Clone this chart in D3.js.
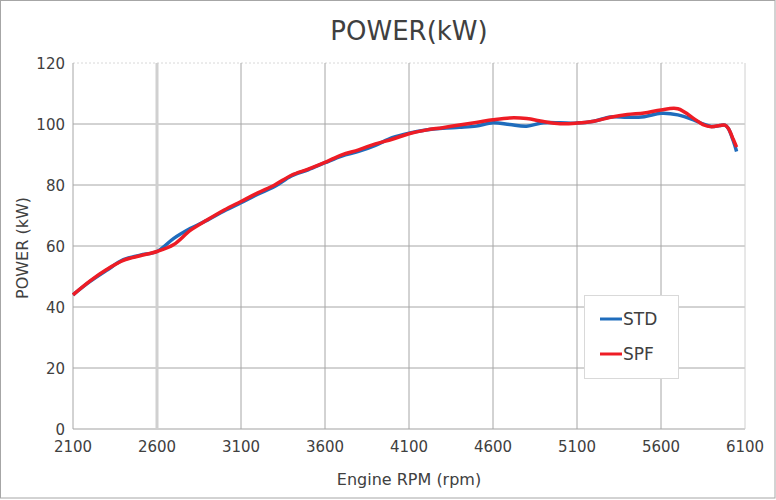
<!DOCTYPE html>
<html lang="en">
<head>
<meta charset="UTF-8">
<title>POWER(kW)</title>
<script src="https://d3js.org/d3.v7.min.js"></script>
<style>
    body { margin: 0; background: #fff; }
    svg { display: block; }
    text { font-family: "DejaVu Sans", Verdana, sans-serif; fill: #404040; }
</style>
</head>
<body>
<script>
    // values
    const rpm = [2100, 2200, 2300, 2400, 2500, 2600, 2700, 2800, 2900, 3000,
        3100, 3200, 3300, 3400, 3500, 3600, 3700, 3800, 3900, 4000,
        4100, 4200, 4300, 4400, 4500, 4600, 4700, 4800, 4900, 5000,
        5100, 5200, 5300, 5400, 5500, 5600, 5700, 5800, 5850, 5900,
        5950, 5980, 6000, 6030, 6050]
    const std = [44, 48.3, 52, 55.5, 57, 58.2, 62.5, 65.8, 68.5, 71.5,
        74.2, 77, 79.5, 83, 85, 87.3, 89.5, 91, 93, 95.5,
        97, 98, 98.6, 98.9, 99.3, 100.4, 99.8, 99.3, 100.4, 100.4,
        100.3, 100.9, 102.3, 102.2, 102.4, 103.5, 103, 101.2, 100, 99.2,
        99.5, 99.6, 98.6, 94.5, 91]
    const spf = [44, 48.5, 52.3, 55.3, 56.8, 58.2, 60.5, 65.2, 68.6, 71.8,
        74.6, 77.4, 80, 83.2, 85.2, 87.4, 89.9, 91.5, 93.5, 95,
        96.8, 98, 98.8, 99.7, 100.5, 101.4, 102, 101.8, 100.8, 100.1,
        100.3, 100.9, 102.2, 103.1, 103.6, 104.6, 105, 101.6, 99.8, 99.1,
        99.5, 99.6, 98.6, 95, 92.4]
    const xTicks = [2100, 2600, 3100, 3600, 4100, 4600, 5100, 5600, 6100]
    const yTicks = [0, 20, 40, 60, 80, 100, 120]
    const seriesNames = ['STD', 'SPF']
    const seriesColors = ['#1f6cbc', '#ee1c25']

    const width = 776
    const height = 500
    const margin = {top: 63, right: 31, bottom: 71, left: 73}

    const svg = d3.select('body').append('svg')
        .attr('width', width)
        .attr('height', height)

    // outer frame
    svg.append('rect')
        .attr('x', 0.5).attr('y', 0.5)
        .attr('width', width - 1.5).attr('height', height - 2.5)
        .attr('fill', 'none')
        .attr('stroke', '#a6a6a6')

    const x = d3.scaleLinear()
        .domain([2100, 6100])
        .range([margin.left, width - margin.right])
    const y = d3.scaleLinear()
        .domain([0, 120])
        .range([height - margin.bottom, margin.top])

    // grid
    svg.append('g')
        .selectAll('line')
        .data(yTicks)
        .join('line')
        .attr('x1', x(2100)).attr('x2', x(6100))
        .attr('y1', d => y(d)).attr('y2', d => y(d))
        .attr('stroke', d => d == 0 ? '#d0d0d0' : (d == 120 ? '#d8d8d8' : '#a6a6a6'))
        .attr('stroke-width', d => d == 0 ? 2 : 1)
        .attr('stroke-dasharray', d => d == 120 ? '2,2' : null)

    svg.append('g')
        .selectAll('line')
        .data(xTicks)
        .join('line')
        .attr('x1', d => x(d)).attr('x2', d => x(d))
        .attr('y1', y(0)).attr('y2', y(120))
        .attr('stroke', d => (d == 2600 || d == 6100) ? '#d0d0d0' : '#a6a6a6')
        .attr('stroke-width', d => d == 2600 ? 3 : 1)

    // tick labels
    svg.append('g')
        .selectAll('text')
        .data(yTicks)
        .join('text')
        .attr('x', x(2100) - 8)
        .attr('y', d => y(d) + 6)
        .attr('text-anchor', 'end')
        .attr('font-size', 15)
        .text(d => d)

    svg.append('g')
        .selectAll('text')
        .data(xTicks)
        .join('text')
        .attr('x', d => x(d))
        .attr('y', y(0) + 23)
        .attr('text-anchor', 'middle')
        .attr('font-size', 15)
        .text(d => d)

    // titles
    svg.append('text')
        .attr('x', 409).attr('y', 40)
        .attr('text-anchor', 'middle')
        .attr('font-size', 26)
        .text('POWER(kW)')

    svg.append('text')
        .attr('x', 409).attr('y', 485)
        .attr('text-anchor', 'middle')
        .attr('font-size', 16)
        .text('Engine RPM (rpm)')

    svg.append('text')
        .attr('transform', 'translate(28,248) rotate(-90)')
        .attr('text-anchor', 'middle')
        .attr('font-size', 16)
        .text('POWER (kW)')

    // series
    const line = d3.line()
        .x(d => x(d[0]))
        .y(d => y(d[1]))
        .curve(d3.curveCatmullRom)

    const series = [std, spf].map(vals => rpm.map((r, i) => [r, vals[i]]))

    svg.append('g')
        .selectAll('path')
        .data(series)
        .join('path')
        .attr('d', line)
        .attr('fill', 'none')
        .attr('stroke', (d, i) => seriesColors[i])
        .attr('stroke-width', 3.5)
        .attr('stroke-linejoin', 'round')

    // legend
    const legend = svg.append('g')
    legend.append('rect')
        .attr('x', 584.5).attr('y', 295.5)
        .attr('width', 94).attr('height', 83)
        .attr('fill', '#fff')
        .attr('stroke', '#d9d9d9')

    const items = legend.selectAll('g')
        .data(seriesNames)
        .join('g')
        .attr('transform', (d, i) => `translate(600, ${319 + i * 35})`)
    items.append('line')
        .attr('x1', 0).attr('x2', 22)
        .attr('stroke', (d, i) => seriesColors[i])
        .attr('stroke-width', 3)
    items.append('text')
        .attr('x', 23).attr('y', 6)
        .attr('font-size', 17)
        .attr('fill', '#262626')
        .text(d => d)
</script>
</body>
</html>
